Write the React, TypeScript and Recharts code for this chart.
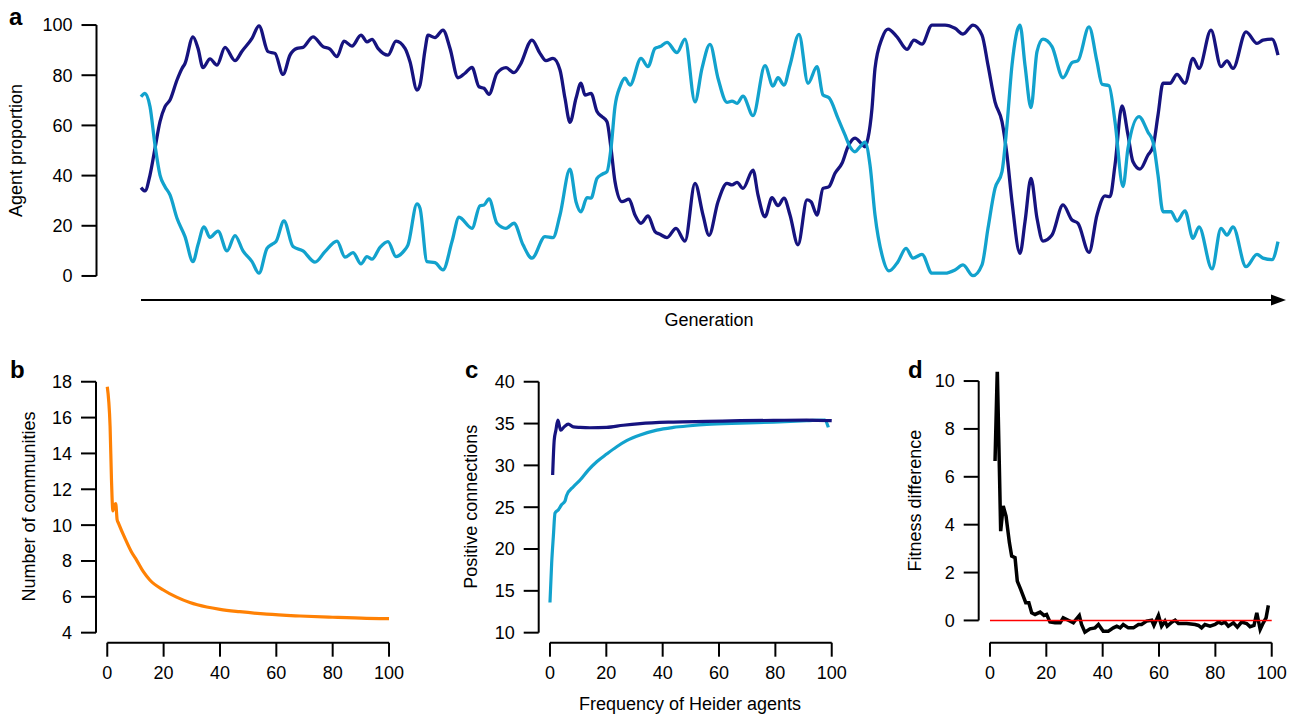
import React from "react";
import { LineChart, Line, XAxis, YAxis, ReferenceLine } from "recharts";

// panel a: generation (x) and agent proportion (%) for the two agent types
const GEN_DARK = [
  0, 4, 9, 14, 19, 24, 29, 36, 41, 44, 52, 57, 62, 69, 76, 84, 94, 101, 111, 118,
  127, 134, 142, 149, 156, 162, 172, 182, 189, 196, 203, 211, 220, 226, 231, 237, 247, 255, 264, 269,
  276, 279, 284, 287, 294, 302, 309, 317, 324, 331, 338, 343, 348, 356, 365, 373, 379, 391, 399, 405,
  412, 419, 424, 429, 435, 440, 444, 450, 456, 461, 466, 470, 474, 481, 488, 494, 500, 507, 514, 519,
  526, 535, 544, 554, 562, 568, 577, 586, 591, 596, 602, 612, 617, 624, 631, 637, 643, 649, 657, 666,
  670, 676, 682, 688, 694, 701, 707, 714, 720, 724, 727, 731, 734, 741, 747, 756, 766, 773, 781, 791,
  804, 814, 822, 832, 841, 847, 854, 861, 866, 871, 879, 884, 890, 896, 902, 911, 922, 931, 937, 948,
  956, 964, 969, 974, 981, 987, 992, 999, 1007, 1012, 1017, 1022, 1029, 1036, 1044, 1052, 1058, 1070, 1080, 1086,
  1092, 1105, 1116, 1122, 1131, 1137,
];
const DARK = [
  35.2, 33.9, 40.2, 50.9, 61.5, 67.5, 70.1, 78.1, 82.7, 84.7, 95.3, 90.7, 83, 86.5, 84, 91.1, 85.8, 89.6, 94.7, 99.7,
  89.4, 88.7, 80.3, 88, 90.7, 91.1, 95.3, 91.4, 90.4, 87.4, 93.6, 91.6, 96, 93.3, 94.3, 90.7, 88, 93.6, 90.7, 85.4,
  74.1, 76.1, 90, 96, 95, 98, 90.7, 79, 80.8, 83.1, 75.4, 74.8, 72.4, 80.8, 83, 81, 84, 94, 88.7, 85.8,
  86.7, 82.1, 70.8, 61.2, 70.8, 76.8, 72.1, 72.8, 65.5, 63.5, 61.5, 50.9, 37.6, 29.6, 30.6, 24.3, 21, 23.9, 17.7, 16.6,
  15.3, 19, 13.9, 36.9, 24.3, 16.2, 29.6, 36.9, 36.3, 37.3, 34.9, 42.2, 32.3, 23.6, 31.2, 28, 31, 24.3, 12.4, 30.3,
  29.6, 24.3, 34.9, 35.6, 40.9, 44.9, 51.5, 54.9, 52.9, 51.5, 54.9, 66.8, 82.7, 94.7, 98.4, 95.3, 90.3, 94, 92.4, 100,
  100, 98.7, 96.4, 100, 96, 84, 69.4, 61.5, 48.2, 29.6, 9, 21.6, 38.9, 23, 13.9, 16.3, 28.3, 22.3, 21, 9.4,
  24.3, 31.9, 31.6, 44.2, 67.8, 56.2, 45.5, 42.6, 48.2, 51.5, 64.1, 76.8, 76.8, 80.3, 76.8, 86.7, 82.7, 98, 83.4, 85.7,
  82.7, 97.3, 92.7, 94, 94.4, 88,
];

const GEN_LIGHT = [
  0, 4, 9, 14, 19, 24, 29, 36, 44, 52, 57, 63, 69, 77, 86, 94, 102, 111, 118, 126,
  131, 135, 143, 152, 162, 174, 184, 196, 204, 212, 220, 226, 231, 239, 247, 255, 263, 267, 276, 279,
  286, 294, 302, 311, 318, 331, 339, 343, 348, 356, 365, 373, 382, 391, 404, 412, 419, 429, 435, 440,
  446, 450, 456, 461, 466, 470, 474, 479, 484, 489, 500, 507, 514, 519, 526, 536, 544, 554, 561, 569,
  577, 586, 591, 596, 602, 612, 624, 632, 637, 643, 649, 658, 667, 676, 682, 688, 697, 704, 709, 714,
  719, 724, 729, 734, 741, 748, 757, 765, 772, 781, 791, 804, 814, 822, 832, 841, 847, 854, 861, 866,
  871, 879, 884, 890, 896, 902, 911, 922, 931, 937, 948, 956, 961, 968, 974, 982, 987, 998, 1007, 1012,
  1017, 1022, 1030, 1036, 1044, 1052, 1058, 1071, 1080, 1086, 1092, 1105, 1116, 1122, 1131, 1137,
];
const LIGHT = [
  71.4, 72.8, 67.5, 52.2, 40.2, 35.6, 32.3, 23, 15.7, 5.7, 12.4, 19.6, 15.4, 17.9, 10, 16.1, 10, 5.7, 1.1, 11,
  12.6, 13.7, 21.9, 11.7, 10, 5.5, 9.7, 13.9, 7.5, 9.3, 4.8, 7.7, 6.7, 11.4, 13.7, 7.7, 10, 12.4, 28.7, 27,
  5.7, 5.3, 2.4, 13.7, 23.4, 19, 28, 28.3, 30.7, 21, 19, 21, 12.4, 7.1, 15.7, 15.3, 24.3, 42.6, 29.6, 25.6,
  31.2, 31, 38.9, 40.5, 41.6, 50.9, 67.5, 75.4, 78.8, 76.1, 86.7, 83.4, 90.7, 91.4, 93.1, 89, 94.4, 69.4, 82.7, 92.3,
  78.8, 69.2, 69.7, 68.8, 71.7, 63.9, 83.8, 75.7, 79, 76.1, 84, 96.3, 76.8, 83.4, 72.1, 71, 62.8, 56.2, 51.5, 49.5,
  51.5, 53.3, 44.2, 24.3, 8.4, 2, 5.7, 11, 7.1, 8.6, 1.1, 1.1, 2.4, 4.4, 0.1, 4.4, 19, 34.9, 41.6, 60.2,
  84, 100, 84, 67.1, 89.4, 94.4, 91.4, 79, 85, 85.8, 99.3, 85.4, 76.4, 75.8, 61.5, 35.6, 50.9, 63.5, 57.3, 53.5,
  40.2, 25.6, 25.6, 21.9, 25.9, 15, 19.6, 2.8, 19, 16.3, 19.6, 3.7, 8.6, 7.1, 6.5, 13.7,
];

// panel b: number of communities vs frequency
const FREQ_B = [0, 1, 1.5, 2, 2.5, 3, 3.5, 4, 6.3, 8.6, 10.4, 12.8, 15.1, 19.9, 24.6, 29.3, 35.3, 40, 47, 56.6, 68.4, 80, 92, 100];
const COMMUNITIES = [17.72, 15.5, 12.5, 10.8, 11.1, 11.2, 10.3, 10.1, 9.26, 8.5, 8.05, 7.4, 6.94, 6.38, 5.98, 5.68, 5.43, 5.3, 5.17, 5.03, 4.93, 4.86, 4.8, 4.78];

// panel c: positive connections vs frequency of Heider agents
const FREQ_C_DARK = [0.95, 1.5, 2.1, 2.8, 3.8, 5, 6.5, 8.3, 10.7, 14.2, 20.1, 26, 32, 43.8, 55.6, 67.5, 79.3, 91.1, 100];
const CONN_DARK = [28.85, 33, 34.2, 35.4, 34.2, 34.6, 34.94, 34.6, 34.54, 34.5, 34.54, 34.8, 35, 35.18, 35.26, 35.34, 35.38, 35.42, 35.34];
const FREQ_C_LIGHT = [0, 0.6, 1.2, 1.8, 3, 4.1, 5.3, 5.9, 8.3, 10.7, 13.6, 16.6, 20.1, 23.7, 27.2, 32, 37.9, 43.8, 49.7, 55.6, 67.5, 79.3, 91.1, 97.6, 98.8];
const CONN_LIGHT = [13.6, 18.3, 21.5, 24.3, 24.7, 25.3, 25.7, 26.4, 27.45, 28.25, 29.44, 30.44, 31.35, 32.23, 32.95, 33.63, 34.22, 34.54, 34.74, 34.9, 35.06, 35.18, 35.34, 35.42, 34.54];

// panel d: fitness difference vs frequency
const FREQ_D = [
  1.8, 2.6, 3.3, 3.8, 4.7, 5.7, 6.9, 7.7, 8.9, 9.7, 10.9, 12.7, 13.8, 14.8, 16, 17.8, 19.2, 20.1, 21.3, 23.1,
  24.9, 26, 27.8, 29.6, 30.5, 31.7, 32.5, 33.7, 35.5, 37.3, 38.5, 40.2, 42, 43.8, 45, 46.2, 47.3, 49.1, 50.9, 52.7,
  53.8, 55.6, 57.4, 58.2, 59.8, 60.9, 62.1, 62.9, 64.5, 65.7, 66.9, 69.8, 72.8, 74, 75.1, 76.3, 78.1, 79.9, 81.1, 82.2,
  83.4, 84.6, 86.4, 87.8, 89.3, 91.1, 92.3, 93.7, 94.7, 95.9, 97, 98, 98.8,
];
const FITNESS = [
  6.66, 10.49, 6.59, 3.73, 4.78, 4.36, 3.25, 2.69, 2.62, 1.64, 1.3, 0.74, 0.74, 0.32, 0.25, 0.35, 0.21, 0.25, -0.06, -0.1,
  -0.1, 0.11, 0.01, -0.1, 0.04, 0.21, -0.17, -0.49, -0.35, -0.31, -0.17, -0.45, -0.45, -0.31, -0.24, -0.31, -0.17, -0.31, -0.31, -0.17,
  -0.17, -0.03, 0.01, -0.21, 0.21, -0.24, -0.03, -0.24, -0.07, 0.01, -0.13, -0.13, -0.17, -0.21, -0.31, -0.17, -0.24, -0.17, -0.07, -0.13,
  -0.07, -0.24, -0.1, -0.28, -0.07, -0.13, -0.26, -0.21, 0.32, -0.38, -0.1, 0.11, 0.63,
];

const PCT_TICKS = [0, 20, 40, 60, 80, 100];
const COMM_TICKS = [4, 6, 8, 10, 12, 14, 16, 18];
const CONN_TICKS = [10, 15, 20, 25, 30, 35, 40];
const FIT_TICKS = [0, 2, 4, 6, 8, 10];

const DARK_BLUE = "#16137f";
const LIGHT_BLUE = "#12a2cd";
const FONT = '"Liberation Sans", Arial, Helvetica, sans-serif';

const pts = (xs: number[], ys: number[]) => xs.map((g, i) => ({ g, v: ys[i] }));

function Title({ x, y, text }: { x: number; y: number; text: string }) {
  return (
    <text x={x} y={y} transform={`rotate(-90 ${x} ${y})`} textAnchor="middle" fontSize={18} fill="#000">
      {text}
    </text>
  );
}

const tickStyle = { fill: "#000", fontSize: 18 };
const tickLine = { stroke: "#000", strokeWidth: 2 };

function SmallPanel({
  left,
  width,
  plotLeft,
  yDomain,
  yTicks,
  clip,
  children,
}: {
  left: number;
  width: number;
  plotLeft: number;
  yDomain: [number, number];
  yTicks: number[];
  clip?: boolean;
  children: React.ReactNode;
}) {
  return (
    <div style={{ position: "absolute", left, top: 340 }}>
      <LineChart
        width={width}
        height={376}
        margin={{ top: 31.7, right: width - plotLeft - 304.3, left: plotLeft - 80, bottom: 33.3 }}
      >
        <XAxis
          type="number"
          dataKey="g"
          domain={[-4, 104]}
          ticks={PCT_TICKS}
          interval={0}
          axisLine={false}
          tickLine={tickLine}
          tickSize={14}
          tickMargin={10}
          tick={tickStyle}
          height={40}
        />
        <YAxis
          type="number"
          domain={yDomain}
          ticks={yTicks}
          interval={0}
          allowDataOverflow={clip}
          axisLine={false}
          tickLine={tickLine}
          tickSize={15}
          tickMargin={9}
          tick={tickStyle}
          width={80}
        />
        <ReferenceLine
          segment={[{ x: -4, y: yTicks[0] }, { x: -4, y: yTicks[yTicks.length - 1] }]}
          stroke="#000"
          strokeWidth={2}
          ifOverflow="visible"
        />
        <ReferenceLine
          segment={[{ x: 0, y: yDomain[0] }, { x: 100, y: yDomain[0] }]}
          stroke="#000"
          strokeWidth={2}
          ifOverflow="visible"
        />
        {children}
      </LineChart>
    </div>
  );
}

export default function App() {
  const darkA = pts(GEN_DARK, DARK);
  const lightA = pts(GEN_LIGHT, LIGHT);
  return (
    <div
      style={{
        position: "absolute",
        left: 0,
        top: 0,
        width: 1298,
        height: 716,
        background: "#fff",
        fontFamily: FONT,
      }}
    >
      <div style={{ position: "absolute", left: 0, top: 0 }}>
        <LineChart width={1298} height={300} margin={{ top: 15, right: 13, left: 16.5, bottom: 14 }}>
          <XAxis type="number" dataKey="g" domain={[-44.5, 1144]} hide />
          <YAxis
            type="number"
            domain={[-4, 104]}
            ticks={PCT_TICKS}
            interval={0}
            axisLine={false}
            tickLine={tickLine}
            tickSize={15}
            tickMargin={9}
            tick={tickStyle}
            width={80}
          />
          <ReferenceLine
            segment={[{ x: -44.5, y: 0 }, { x: -44.5, y: 100 }]}
            stroke="#000"
            strokeWidth={2}
            ifOverflow="visible"
          />
          <Line data={darkA} dataKey="v" type="monotone" stroke={DARK_BLUE} strokeWidth={3.3} dot={false} activeDot={false} isAnimationActive={false} />
          <Line data={lightA} dataKey="v" type="monotone" stroke={LIGHT_BLUE} strokeWidth={3.3} dot={false} activeDot={false} isAnimationActive={false} />
        </LineChart>
      </div>

      <SmallPanel left={0} width={420} plotLeft={96} yDomain={[3.44, 18.56]} yTicks={COMM_TICKS}>
        <Line data={pts(FREQ_B, COMMUNITIES)} dataKey="v" type="monotone" stroke="#ff8104" strokeWidth={3.2} dot={false} activeDot={false} isAnimationActive={false} />
      </SmallPanel>

      <SmallPanel left={440} width={420} plotLeft={98.7} yDomain={[8.8, 41.2]} yTicks={CONN_TICKS}>
        <Line data={pts(FREQ_C_LIGHT, CONN_LIGHT)} dataKey="v" type="monotone" stroke={LIGHT_BLUE} strokeWidth={3.2} dot={false} activeDot={false} isAnimationActive={false} />
        <Line data={pts(FREQ_C_DARK, CONN_DARK)} dataKey="v" type="monotone" stroke={DARK_BLUE} strokeWidth={3.2} dot={false} activeDot={false} isAnimationActive={false} />
      </SmallPanel>

      <SmallPanel left={880} width={418} plotLeft={98.7} yDomain={[-0.93, 10.39]} yTicks={FIT_TICKS} clip>
        <Line data={pts(FREQ_D, FITNESS)} dataKey="v" type="linear" stroke="#000" strokeWidth={3.5} dot={false} activeDot={false} isAnimationActive={false} />
        <ReferenceLine segment={[{ x: 0, y: 0 }, { x: 100, y: 0 }]} stroke="#ff0000" strokeWidth={1.5} />
      </SmallPanel>

      <svg
        width={1298}
        height={716}
        style={{ position: "absolute", left: 0, top: 0, pointerEvents: "none" }}
      >
        <line x1={141} y1={300} x2={1274} y2={300} stroke="#000" strokeWidth={2} />
        <polygon points="1286,300 1271,294.5 1271,305.5" fill="#000" />
        <text x={709} y={326} textAnchor="middle" fontSize={18} fill="#000">Generation</text>
        <text x={690} y={710} textAnchor="middle" fontSize={18} fill="#000">Frequency of Heider agents</text>
        <Title x={22} y={150.5} text="Agent proportion" />
        <Title x={34.5} y={506.5} text="Number of communities" />
        <Title x={477} y={506.7} text="Positive connections" />
        <Title x={921.5} y={500.7} text="Fitness difference" />
        <g fontSize={24} fontWeight="bold" fill="#000">
          <text x={9} y={25}>a</text>
          <text x={10} y={378}>b</text>
          <text x={465} y={378}>c</text>
          <text x={908} y={378}>d</text>
        </g>
      </svg>
    </div>
  );
}
